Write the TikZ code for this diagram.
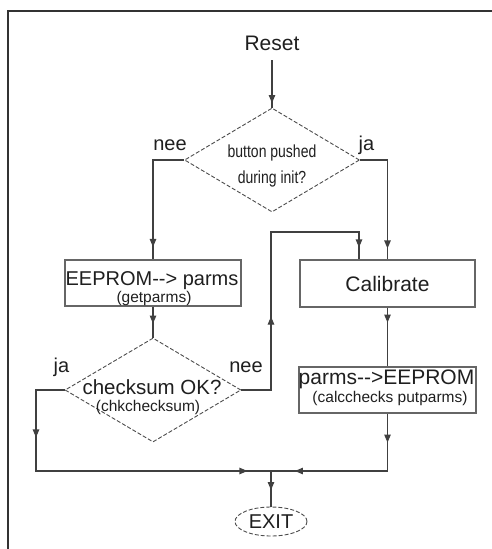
\documentclass[tikz,border=0pt]{standalone}
\usepackage{fontspec}
\setmainfont{Liberation Sans}
\newfontfamily\narrowfont[FakeStretch=0.8]{Liberation Sans}
\usetikzlibrary{shapes.geometric,arrows.meta,decorations.markings}
\tikzset{
  ln/.style={draw=black!75, line width=1.1pt},
  tipat/.style={postaction={decorate,decoration={markings,
     mark=at position #1 with {\arrow{Triangle[length=8pt,width=6.5pt]}}}}},
  box/.style={draw=black!60, line width=1.1pt, rectangle, inner sep=0pt, text=black!88},
  dia/.style={draw=black!70, line width=0.9pt, dash pattern=on 4pt off 2pt, diamond, inner sep=0pt, aspect=1.7},
  txt/.style={anchor=base, inner sep=0pt, text=black!88},
  fbig/.style={font=\fontsize{20}{22}\selectfont},
  fsmall/.style={font=\fontsize{15.5}{17}\selectfont},
}
\begin{document}
\begin{tikzpicture}[x=1pt,y=-1pt]
\useasboundingbox (0,0) rectangle (492,549);
\begin{scope}
\clip (0,0) rectangle (492,549);
\draw[draw=black!80, line width=1.4pt] (8,11) rectangle (530,600);
\end{scope}

% nodes
\node[txt, font=\fontsize{21}{23}\selectfont] (reset) at (272,50) {Reset};
\coordinate (r0) at (272,60);

\node[dia, minimum width=175pt, minimum height=104pt] (d1) at (272,160) {};
\node[txt, font=\narrowfont\fontsize{17.5}{19}\selectfont] (d1a) at (272,157) {button pushed};
\node[txt, font=\narrowfont\fontsize{17.5}{19}\selectfont] (d1b) at (272,183) {during init?};

\node[box, minimum width=176pt, minimum height=46pt] (eep) at (153,283) {};
\node[txt, fbig] (eepa) at (152,285) {EEPROM-{}-> parms};
\node[txt, fsmall] (eepb) at (154,302) {(getparms)};

\node[box, minimum width=175pt, minimum height=47pt, font=\fontsize{21}{23}\selectfont] (calib) at (387.5,283.5) {Calibrate};

\node[dia, minimum width=176pt, minimum height=104pt] (d2) at (153,390) {};
\node[txt, font=\fontsize{20.5}{22}\selectfont] (d2a) at (152,394) {checksum OK?};
\node[txt, font=\fontsize{15.5}{17}\selectfont] (d2b) at (148,411) {(chkchecksum)};

\node[box, minimum width=177pt, minimum height=46pt] (pbox) at (387.5,390) {};
\node[txt, font=\fontsize{21}{23}\selectfont] (pboxa) at (386.5,384) {parms-{}->EEPROM};
\node[txt, fsmall] (pboxb) at (390,402) {(calcchecks putparms)};

\node[ellipse, draw=black!70, line width=0.9pt, dash pattern=on 4pt off 2pt, inner sep=0pt,
      minimum width=72pt, minimum height=29pt, fbig, text=black!88] (exit) at (271,521.5) {EXIT};

% labels
\node[txt, fbig] (l1) at (170,150) {nee};
\node[txt, fbig] (l2) at (366.5,150) {ja};
\node[txt, fbig] (l3) at (61.5,372) {ja};
\node[txt, fbig] (l4) at (246,372) {nee};

% coordinates
\coordinate (lp1) at (271,232);
\coordinate (lp2) at (359,232);
\coordinate (jl) at (36,471);
\coordinate (j) at (271,471);

% connectors
\draw[ln, tipat=43pt] (r0) -- (d1.north);
\draw[ln, tipat=118pt] (d1.west) -| (eep.north);
\draw[ln, tipat=116pt] (d1.east) -| (calib.north);
\draw[ln, tipat=17pt] (eep.south) -- (d2.north);
\draw[ln, tipat=103pt, tipat=291pt] (d2.east) -| (lp1) -- (lp2) -- (lp2 |- calib.north);
\draw[ln, tipat=76pt, tipat=321pt] (d2.west) -| (jl) -- (j);
\draw[ln, tipat=15pt] (calib.south) -- (pbox.north);
\draw[ln, tipat=29pt, tipat=150pt] (pbox.south) |- (j);
\draw[ln, tipat=19pt] (j) -- (exit.north);
\end{tikzpicture}
\end{document}
